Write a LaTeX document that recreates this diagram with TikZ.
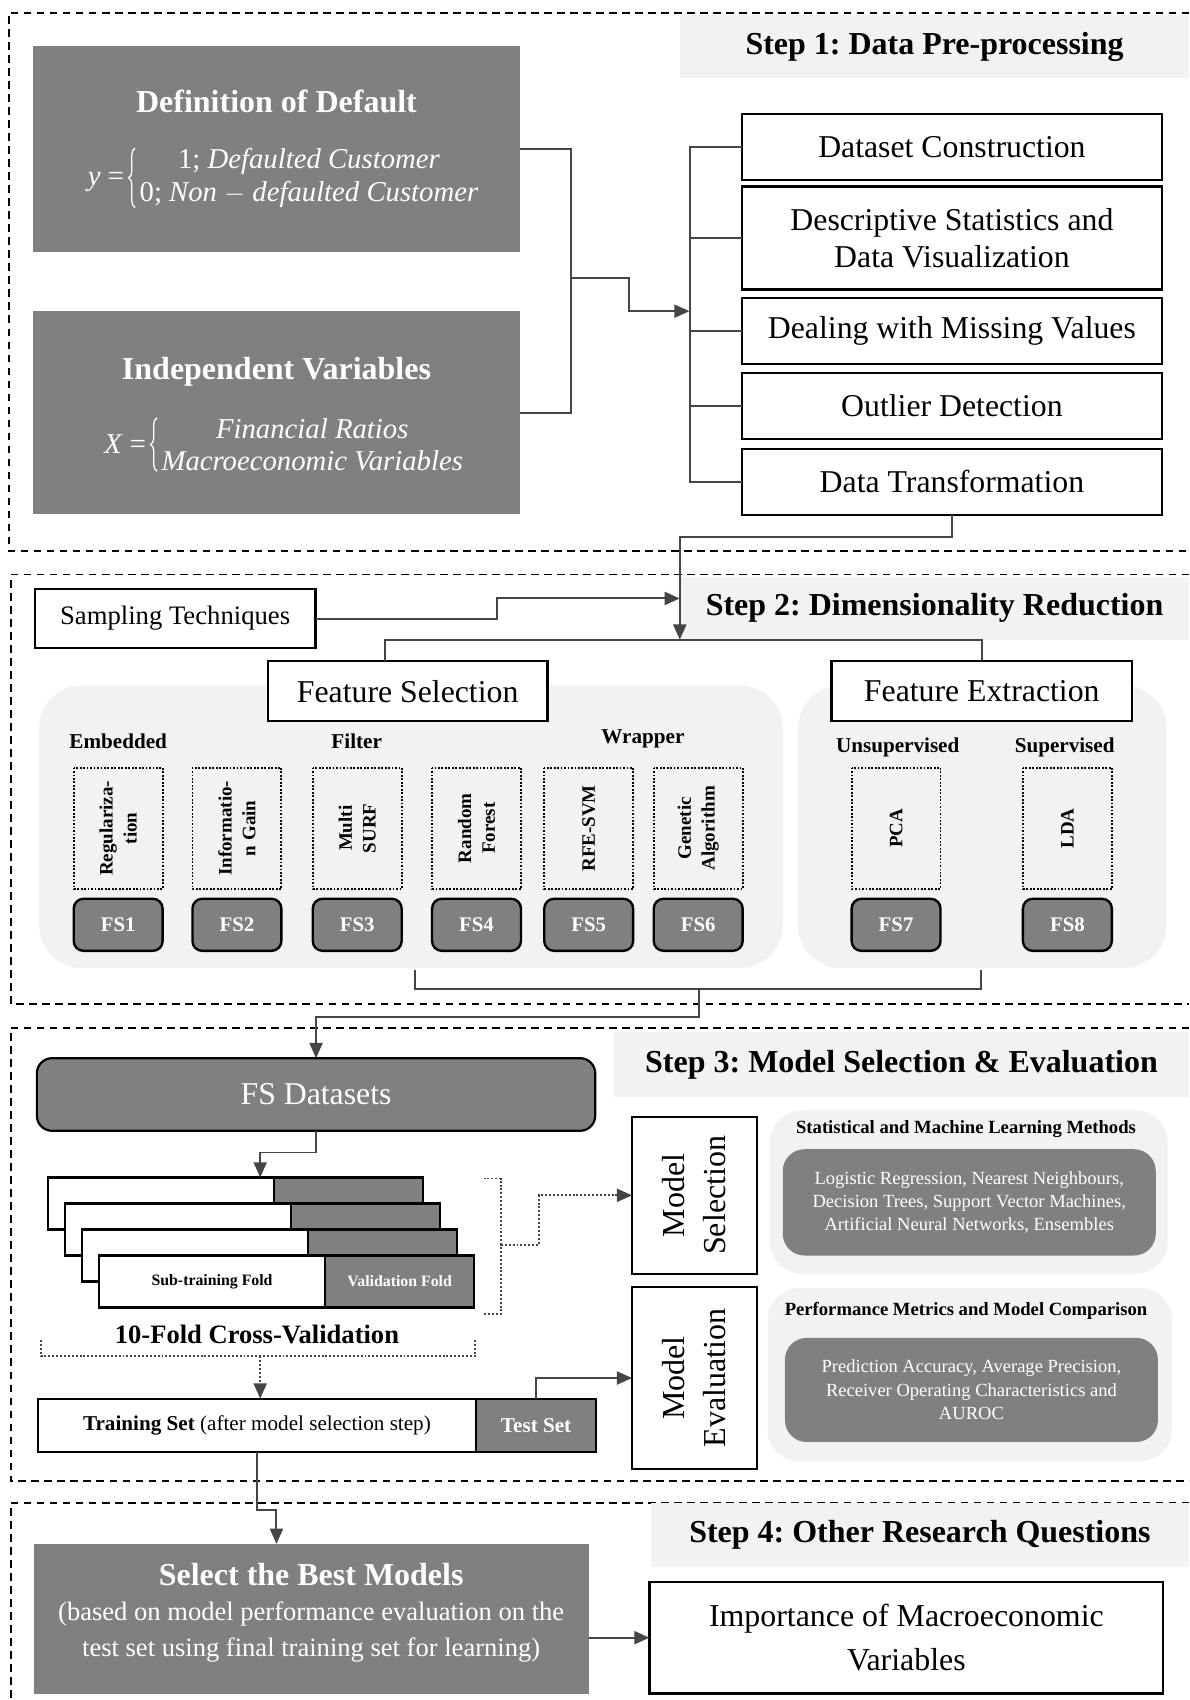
\documentclass[tikz,border=0pt]{standalone}
\usepackage{fontspec}
\setmainfont{Liberation Serif}
\usepackage{graphicx}
\usetikzlibrary{arrows.meta,calc,decorations.pathreplacing}
\frenchspacing
\definecolor{boxgray}{gray}{0.5}
\definecolor{panelgray}{gray}{0.95}
\definecolor{linegray}{gray}{0.27}
\tikzset{
  frame/.style={line width=1.6pt, dash pattern=on 7pt off 5pt},
  titlebox/.style={fill=panelgray, inner sep=0pt, font=\fontsize{29.5}{34}\selectfont\bfseries},
  whitebox/.style={draw=black, line width=2pt, fill=white, inner sep=0pt, outer sep=0pt, align=center, font=\fontsize{29.3}{34}\selectfont},
  darkbox/.style={fill=boxgray, text=white, inner sep=0pt, outer sep=0pt, align=center},
  panel/.style={fill=panelgray, rounded corners=40pt, inner sep=0pt},
  catlabel/.style={font=\fontsize{19.5}{22}\selectfont\bfseries},
  methodbox/.style={draw=black, line width=1.7pt, dash pattern=on 1.7pt off 1.5pt, rotate=90, minimum width=112pt, minimum height=82pt, inner sep=0pt, align=center, font=\fontsize{17.5}{22}\selectfont\bfseries},
  fsbox/.style={draw=black, line width=2.2pt, fill=boxgray, rounded corners=9pt, minimum width=82pt, minimum height=48pt, text=white, font=\fontsize{19.2}{22}\selectfont\bfseries},
  foldw/.style={draw=black, line width=2pt, fill=white, minimum width=209pt, minimum height=48pt, inner sep=0pt, outer sep=0pt},
  foldg/.style={foldw, fill=boxgray, minimum width=137pt},
  foldlab/.style={font=\fontsize{14.6}{17}\selectfont\bfseries},
  eqtext/.style={text=white, inner sep=0pt, align=center, font=\fontsize{26.5}{30}\selectfont},
  eqbrace/.style={draw=white, line width=1.2pt, decorate, decoration={brace, amplitude=6pt}},
  conn/.style={draw=linegray, line width=1.8pt},
  arr/.style={conn, -{Triangle[length=14pt,width=12pt]}},
  dotconn/.style={conn, dash pattern=on 1.8pt off 1.8pt},
  darr/.style={dotconn, -{Triangle[length=14pt,width=12pt]}},
}

\begin{document}
\begin{tikzpicture}[x=1pt,y=-1pt]
	%%%%% START %%%%%
	\useasboundingbox (0,0) rectangle (1097,1568);
	
	\draw[frame] (1097,12) -- (8,12) -- (8,508) -- (1097,508);
	\draw[frame] (1097,530) -- (10,530) -- (10,926) -- (1097,926);
	\draw[frame] (1097,948) -- (10,948) -- (10,1366) -- (1097,1366);
	\draw[frame] (1097,1386) -- (10,1386) -- (10,1568);
	
	%%%%% STEP 1 %%%%%
	\node[titlebox, minimum width=470pt, minimum height=58pt] (stepa) at (862,43) {Step 1: Data Pre-processing};
	
	\node[darkbox, minimum width=450pt, minimum height=190pt] (defbox) at (255,137) {};
	\node[text=white, font=\fontsize{29.5}{34}\selectfont\bfseries] (deftitle) at (255,94) {Definition of Default};
	\node[eqtext] (deflines) at (285,164) {1; \textit{Defaulted Customer}\\0; \textit{Non} $-$ \textit{defaulted Customer}};
	\node[eqtext, anchor=east, yshift=-4pt] (defy) at ([xshift=-14pt]deflines.west) {\textit{y} =};
	\draw[eqbrace] ([xshift=-4pt]deflines.south west) -- ([xshift=-4pt]deflines.north west);
	
	\node[darkbox, minimum width=450pt, minimum height=187pt] (indbox) at (255,380.5) {};
	\node[text=white, font=\fontsize{29.5}{34}\selectfont\bfseries] (indtitle) at (255,343) {Independent Variables};
	\node[eqtext] (indlines) at (288,410) {\textit{Financial Ratios}\\\textit{Macroeconomic Variables}};
	\node[eqtext, anchor=east] (indx) at ([xshift=-14pt]indlines.west) {\textit{X} =};
	\draw[eqbrace] ([xshift=-4pt]indlines.south west) -- ([xshift=-4pt]indlines.north west);
	
	\node[whitebox, minimum width=388pt, minimum height=61pt] (dsc) at (878,135.5) {Dataset Construction};
	\node[whitebox, minimum width=388pt, minimum height=95pt] (dsv) at (878,219.5) {Descriptive Statistics and\\Data Visualization};
	\node[whitebox, minimum width=388pt, minimum height=61pt] (dmv) at (878,305.5) {Dealing with Missing Values};
	\node[whitebox, minimum width=388pt, minimum height=61pt] (odt) at (878,374.5) {Outlier Detection};
	\node[whitebox, minimum width=388pt, minimum height=61pt] (dtr) at (878,444.5) {Data Transformation};
	
	\coordinate (mergea) at (527,256);
	\coordinate (busa) at (636,287);
	\draw[conn] (defbox.east) -| (mergea) |- (indbox.east);
	\draw[arr] (mergea) -- ++(53,0) |- (busa);
	\draw[conn] (dsc.west) -| (busa) |- (dtr.west);
	\foreach \n in {dsv,dmv,odt}
		\draw[conn] (\n.west) -- (\n.west -| busa);
	
	%%%%% STEP 2 %%%%%
	\node[titlebox, minimum width=470pt, minimum height=58pt] (stepb) at (862,561) {Step 2: Dimensionality Reduction};
	\node[whitebox, minimum width=259pt, minimum height=55pt, font=\fontsize{24.6}{28}\selectfont] (samp) at (161.5,570.5) {Sampling Techniques};
	
	\node[panel, minimum width=686pt, minimum height=261pt] (fspanel) at (379,762.5) {};
	\node[panel, minimum width=340pt, minimum height=261pt] (fepanel) at (906,762.5) {};
	\node[whitebox, minimum width=258pt, minimum height=55pt] (fsel) at (376,637.5) {Feature Selection};
	\node[whitebox, minimum width=277pt, minimum height=55pt] (fext) at (905.5,637.5) {Feature Extraction};
	
	\node[catlabel] (emb) at (109,684) {Embedded};
	\node[catlabel] (filt) at (329,684) {Filter};
	\node[catlabel] (wrap) at (593,681) {Wrapper};
	\node[catlabel] (unsup) at (828,689) {Unsupervised};
	\node[catlabel] (sup) at (982,689) {Supervised};
	
	\foreach \x/\lab [count=\i] in {109/{Regulariza-\\tion},218.5/{Informatio-\\n Gain},329.5/{Multi\\SURF},439.5/{Random\\Forest},543/{RFE-SVM},644/{Genetic\\Algorithm},826.5/{PCA},984.5/{LDA}}{
		\node[methodbox] (m\i) at (\x,764) {\lab};
		\node[fsbox] (fs\i) at (\x,853) {FS\i};
	}
	
	\coordinate (dra) at (627,590);
	\coordinate (sampin) at (627,552);
	\coordinate (splitl) at (355,590);
	\draw[arr] (dtr.south) -- ++(0,20) -| (dra);
	\draw[arr] (samp.east) -- ++(167,0) |- (sampin);
	\draw[conn] (splitl |- fsel.north) -- (splitl) -| (fext.north);
	
	\coordinate (brl) at (383,895);
	\coordinate (brr) at (905,895);
	\coordinate (brm) at (645,912);
	\draw[conn] (brl) |- (brm) -| (brr);
	
	%%%%% STEP 3 %%%%%
	\node[titlebox, minimum width=531pt, minimum height=60pt] (stepc) at (831.5,982) {Step 3: Model Selection \& Evaluation};
	\node[darkbox, draw=black, line width=2pt, rounded corners=14pt, minimum width=515pt, minimum height=67pt, font=\fontsize{29.3}{34}\selectfont] (fsd) at (291.5,1009.5) {FS Datasets};
	\draw[arr] (brm) -- ++(0,26) -| (fsd.north);
	
	\foreach \i in {0,...,3}{
		\node[foldw, anchor=north west] (fw\i) at ({44+15.7*\i},{1086+24*\i}) {};
		\node[foldg, anchor=north west] (fg\i) at (fw\i.north east) {};
	}
	\node[foldlab] (subtr) at (fw3) {Sub-training Fold};
	\node[foldlab, text=white] (valid) at (fg3) {Validation Fold};
	\coordinate (foldin) at (240,1086);
	\draw[arr] (fsd.south) -- ++(0,20) -| (foldin);
	
	\node[font=\fontsize{24.5}{28}\selectfont\bfseries] (cvlab) at (237,1231) {10-Fold Cross-Validation};
	
	\node[whitebox, minimum width=404pt, minimum height=49pt, font=\fontsize{19.5}{22}\selectfont] (train) at (237,1314.5) {\textbf{Training Set} (after model selection step)};
	\node[darkbox, draw=black, line width=2pt, minimum width=111pt, minimum height=49pt, font=\fontsize{19.5}{22}\selectfont\bfseries] (test) at (494.5,1314.5) {Test Set};
	
	\node[whitebox, minimum width=115pt, minimum height=145pt] (msel) at (640.5,1102.5) {};
	\node[rotate=90, align=center, font=\fontsize{29.5}{38}\selectfont] (mseltext) at (msel) {Model\\Selection};
	\node[whitebox, minimum width=115pt, minimum height=168pt] (meval) at (640.5,1271) {};
	\node[rotate=90, align=center, font=\fontsize{29.5}{38}\selectfont] (mevaltext) at (meval) {Model\\Evaluation};
	
	\coordinate (cvrt) at (446,1087);
	\coordinate (cvr) at (462,1148);
	\coordinate (cvrb) at (446,1212);
	\draw[dotconn] (cvrt) -| (cvr) |- (cvrb);
	\draw[darr] (cvr) -- ++(35,0) |- (msel.west);
	\coordinate (cvbl) at (38,1236);
	\coordinate (cvb) at (240,1251);
	\coordinate (cvbr) at (438,1236);
	\draw[dotconn] (cvbl) |- (cvb) -| (cvbr);
	\draw[darr] (cvb) -- (cvb |- train.north);
	\draw[arr] (test.north) |- (meval.west);
	
	\node[panel, rounded corners=30pt, minimum width=367pt, minimum height=151pt] (mlpanel) at (893.5,1099.5) {};
	\node[font=\fontsize{17.2}{20}\selectfont\bfseries] (mltitle) at (891,1041) {Statistical and Machine Learning Methods};
	\node[darkbox, rounded corners=20pt, minimum width=344pt, minimum height=98pt, font=\fontsize{17.1}{21.5}\selectfont] (mlbox) at (894,1109) {Logistic Regression, Nearest Neighbours,\\Decision Trees, Support Vector Machines,\\Artificial Neural Networks, Ensembles};
	\node[panel, rounded corners=30pt, minimum width=373pt, minimum height=160pt] (pmpanel) at (894.5,1268) {};
	\node[font=\fontsize{17.2}{20}\selectfont\bfseries] (pmtitle) at (891,1209) {Performance Metrics and Model Comparison};
	\node[darkbox, rounded corners=20pt, minimum width=344pt, minimum height=96pt, font=\fontsize{17.1}{21.5}\selectfont] (pmbox) at (896,1282) {Prediction Accuracy, Average Precision,\\Receiver Operating Characteristics and\\AUROC};
	
	%%%%% STEP 4 %%%%%
	\node[titlebox, minimum width=497pt, minimum height=59pt] (stepd) at (848.5,1415.5) {Step 4: Other Research Questions};
	\node[darkbox, minimum width=512pt, minimum height=138pt] (best) at (287,1493) {};
	\node[text=white, font=\fontsize{29.5}{34}\selectfont\bfseries] (besttitle) at (287,1452) {Select the Best Models};
	\node[text=white, align=center, font=\fontsize{24.5}{33}\selectfont] (besttext) at (287,1505) {(based on model performance evaluation on the\\test set using final training set for learning)};
	\node[whitebox, minimum width=474pt, minimum height=103pt, font=\fontsize{29.4}{40}\selectfont] (imp) at (836,1510.5) {Importance of Macroeconomic\\Variables};
	
	\coordinate (bestin) at (255,1424);
	\draw[arr] (train.south) -- ++(0,54) -| (bestin);
	\draw[arr] (best.east |- imp.west) -- (imp.west);
	
	%%%%% END %%%%%
\end{tikzpicture}
\end{document}
